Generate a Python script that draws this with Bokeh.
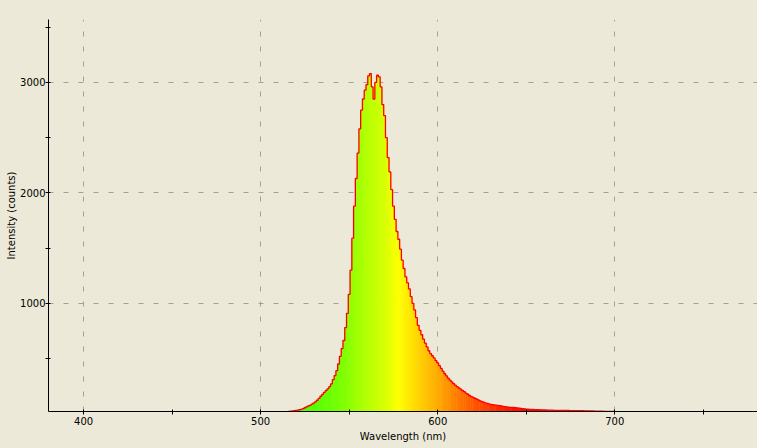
import numpy as np
from bokeh.plotting import figure
from bokeh.models import FixedTicker, ColumnDataSource
from bokeh.embed import file_html
from bokeh.resources import INLINE

# ---------------- data ----------------
wavelength = list(range(515, 701))
intensity = [
    18, 20, 24, 25, 28, 30, 32, 36, 40, 46,            # 515-524
    54, 62, 70, 76, 86, 96, 108, 122, 138, 158,        # 525-534
    175, 194, 210, 225, 245, 270, 308, 345, 390, 450,  # 535-544
    520, 590, 663, 780, 909, 1080, 1300, 1590, 1880, 2130,   # 545-554
    2360, 2580, 2750, 2850, 2930, 2980, 3060, 3080, 2960, 2850,  # 555-564
    3000, 3065, 3050, 2960, 2800, 2700, 2500, 2320, 2190, 2030,  # 565-574
    1880, 1760, 1650, 1580, 1490, 1390, 1315, 1240, 1185, 1130,  # 575-584
    1060, 1000, 940, 870, 800, 755, 715, 675, 640, 605,  # 585-594
    570, 545, 525, 505, 480, 460, 435, 410, 385, 362,    # 595-604
    342, 322, 305, 288, 272, 258, 245, 233, 222, 210,    # 605-614
    200, 186, 176, 165, 155, 148, 140, 133, 125, 117,    # 615-624
    110, 104, 98, 93, 89, 85, 82, 79, 77, 75,            # 625-634
    73, 70, 67, 64, 62, 60, 58, 57, 56, 54,              # 635-644
    52, 50, 48, 46, 44, 42, 41, 40, 39, 38,              # 645-654
    37, 37, 36, 35, 35, 34, 34, 33, 33, 32,              # 655-664
    32, 31, 31, 31, 30, 30, 30, 29, 29, 29,              # 665-674
    28, 28, 28, 28, 27, 27, 27, 27, 26, 26,              # 675-684
    26, 25, 25, 25, 24, 24, 24, 23, 23, 22,              # 685-694
    22, 22, 21, 21, 20, 20,                              # 695-700
]
x_major_ticks = [400, 500, 600, 700]
x_minor_ticks = [450, 550, 650, 750]
y_major_ticks = [1000, 2000, 3000]
y_minor_ticks = [500, 1500, 2500, 3500]

# ---------------- styling ----------------
BG = "#ECE9D8"
color_stops_nm = [505, 525, 545, 560, 570, 578, 588, 600, 612, 625, 640, 650]
color_stops_r = [40, 70, 120, 180, 215, 255, 255, 255, 255, 255, 255, 255]
color_stops_g = [255, 255, 255, 255, 255, 255, 215, 170, 120, 70, 20, 0]


def spectral_color(nm):
    r = int(round(np.interp(nm, color_stops_nm, color_stops_r)))
    g = int(round(np.interp(nm, color_stops_nm, color_stops_g)))
    return "#%02x%02x00" % (r, g)


wl = np.array(wavelength, dtype=float)
src = ColumnDataSource(dict(
    left=wl - 0.5,
    right=wl + 0.75,
    top=intensity,
    bottom=[0] * len(wavelength),
    color=[spectral_color(w) for w in wavelength],
))

p = figure(width=757, height=448, output_backend="svg", toolbar_location=None,
           x_range=(380.2, 780.6), y_range=(20, 3570),
           background_fill_color=BG, border_fill_color=BG,
           min_border_left=48, min_border_right=0, min_border_top=19,
           min_border_bottom=37)
p.outline_line_color = None

p.quad(left="left", right="right", top="top", bottom="bottom",
       fill_color="color", line_color=None, source=src)
p.step(wavelength, intensity, mode="center", line_color="#FF0000", line_width=1.3)

p.xaxis.ticker = FixedTicker(ticks=x_major_ticks, minor_ticks=x_minor_ticks)
p.yaxis.ticker = FixedTicker(ticks=y_major_ticks, minor_ticks=y_minor_ticks)

for ax in (p.xaxis, p.yaxis):
    ax.axis_line_color = "black"
    ax.axis_line_width = 1
    ax.major_tick_line_color = "black"
    ax.minor_tick_line_color = "black"
    ax.major_tick_in = 2
    ax.major_tick_out = 3
    ax.minor_tick_in = 2
    ax.minor_tick_out = 3
    ax.major_label_text_font = "DejaVu Sans"
    ax.major_label_text_font_size = "10px"
    ax.major_label_text_color = "black"
    ax.axis_label_text_font = "DejaVu Sans"
    ax.axis_label_text_font_size = "10px"
    ax.axis_label_text_font_style = "normal"
    ax.axis_label_text_color = "black"

p.xaxis.axis_label = "Wavelength (nm)"
p.yaxis.axis_label = "Intensity (counts)"
p.xaxis.major_label_standoff = 2
p.yaxis.major_label_standoff = 0
p.xaxis.axis_label_standoff = 3
p.yaxis.axis_label_standoff = 0

p.grid.grid_line_color = "#A0A0A0"
p.grid.grid_line_dash = "5 10"
p.grid.grid_line_width = 1

html = file_html(p, INLINE)
html = html.replace("</head>", "<style>html,body{background-color:%s;}</style></head>" % BG, 1)
open("out.html", "w").write(html)
